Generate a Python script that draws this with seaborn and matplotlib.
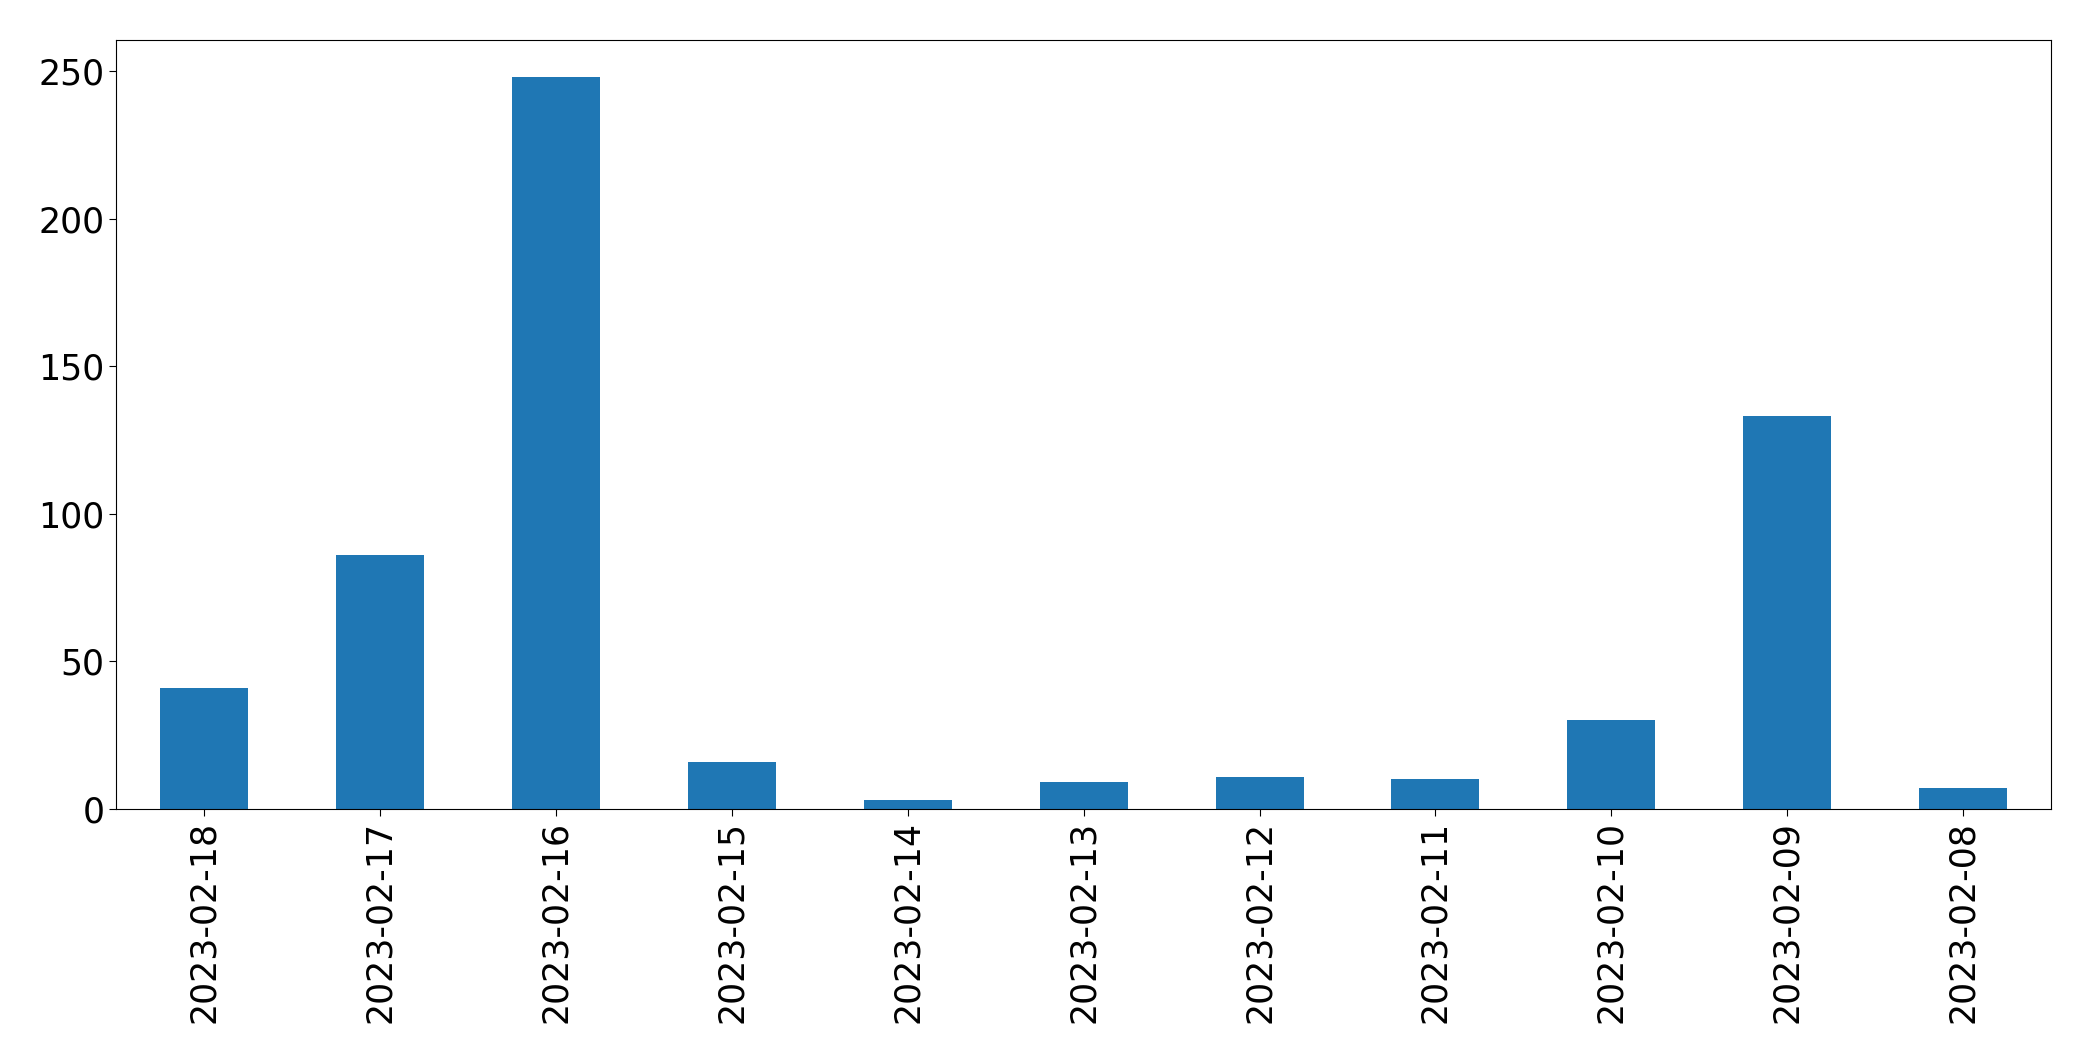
import pandas as pd
import matplotlib
matplotlib.use("Agg")
import matplotlib.pyplot as plt
import seaborn as sns

# data
dates = ["2023-02-18", "2023-02-17", "2023-02-16", "2023-02-15", "2023-02-14",
         "2023-02-13", "2023-02-12", "2023-02-11", "2023-02-10", "2023-02-09",
         "2023-02-08"]
counts = [41, 86, 248, 16, 3, 9, 11, 10, 30, 133, 7]

df = pd.DataFrame({"date": dates, "count": counts})

fig = plt.figure(figsize=(20.93, 10.61), dpi=100)
ax = fig.add_axes([0.0555, 0.2375, 0.9245, 0.7245])

sns.barplot(data=df, x="date", y="count", order=dates, color="#1f77b4",
            saturation=1, width=0.5, ax=ax)

ax.set_xlim(-0.5, len(dates) - 0.5)
ax.set_ylim(0, max(counts) * 1.05)
ax.set_xlabel("")
ax.set_ylabel("")
ax.tick_params(axis="both", labelsize=25, length=5)
plt.setp(ax.get_xticklabels(), rotation=90)

fig.savefig("out.png", dpi=100)
